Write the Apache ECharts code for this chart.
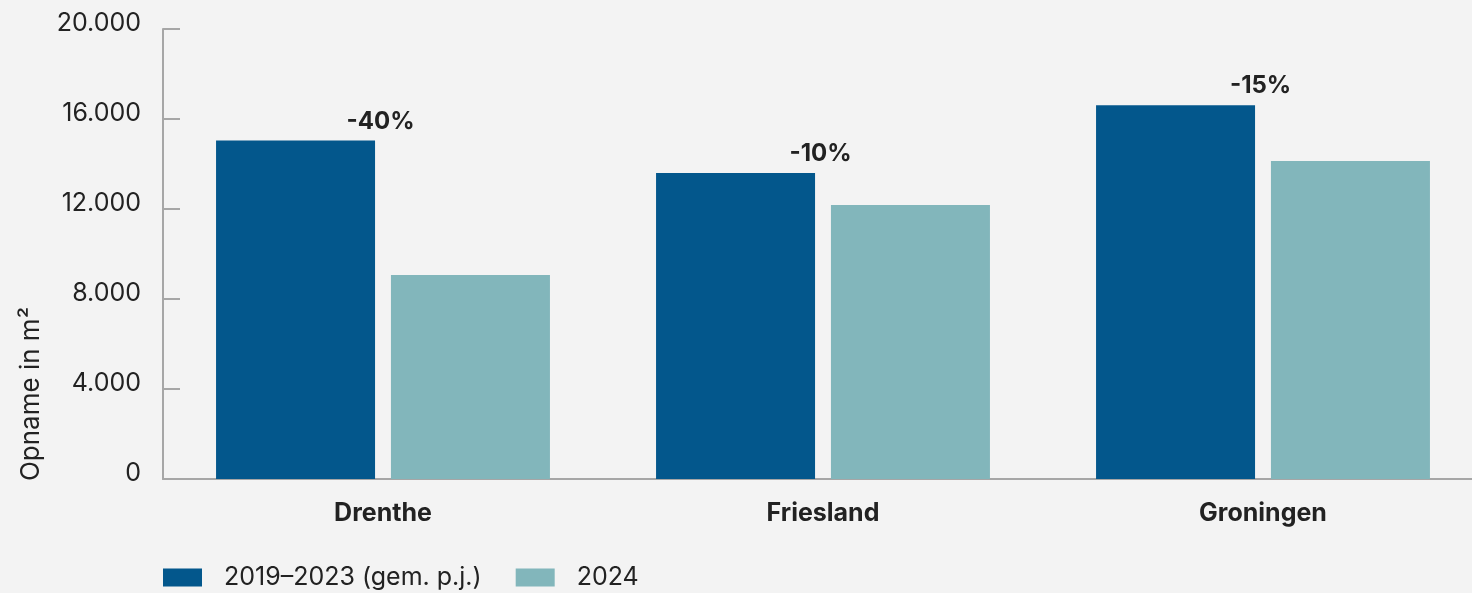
<!DOCTYPE html>
<html>
<head>
<meta charset="utf-8">
<script src="https://cdn.jsdelivr.net/npm/echarts@6/dist/echarts.min.js"></script>
<style>
  html, body { margin: 0; padding: 0; background: #f3f3f3; }
  #main { width: 1472px; height: 593px; }
</style>
</head>
<body>
<div id="main"></div>
<script>
const provinces = ["Drenthe", "Friesland", "Groningen"];
const avg2019_2023 = [15050, 13600, 16610];
const year2024 = [9070, 12180, 14130];
const changeLabels = ["-40%", "-10%", "-15%"];
const seriesNames = ["2019–2023 (gem. p.j.)", "2024"];

const FONT = "Inter, 'Noto Sans', sans-serif";
const TEXT = "#222222";
const AXIS = "#a6a6a6";
const FS = 25;

const chart = echarts.init(document.getElementById("main"));

chart.setOption({
  backgroundColor: "#f3f3f3",
  animation: false,
  textStyle: { fontFamily: FONT },
  grid: { left: 163, top: 29, bottom: 114, width: 1320, outerBoundsMode: "none" },
  legend: {
    left: 163,
    top: 565,
    padding: 0,
    itemWidth: 39,
    itemHeight: 18,
    itemGap: 34,
    icon: "rect",
    textStyle: { fontFamily: FONT, fontSize: FS, color: TEXT, padding: [0, 0, 0, 17] },
    data: seriesNames
  },
  graphic: [
    {
      type: "text",
      x: 31,
      y: 394,
      rotation: Math.PI / 2,
      style: {
        text: "Opname in m²",
        font: "26px " + FONT,
        fill: TEXT,
        align: "center",
        verticalAlign: "middle"
      }
    }
  ],
  xAxis: {
    type: "category",
    data: provinces,
    axisLine: { lineStyle: { color: AXIS, width: 2 } },
    axisTick: { show: false },
    axisLabel: { fontFamily: FONT, fontSize: FS, fontWeight: "bold", color: TEXT, margin: 22 }
  },
  yAxis: {
    type: "value",
    min: 0,
    max: 20000,
    interval: 4000,
    splitLine: { show: false },
    axisLine: { show: true, lineStyle: { color: AXIS, width: 2 } },
    axisTick: { show: true, inside: true, length: 17, lineStyle: { color: AXIS, width: 2 } },
    axisLabel: {
      fontFamily: FONT,
      fontSize: FS,
      color: TEXT,
      margin: 22,
      verticalAlign: "bottom",
      lineHeight: 12,
      formatter: (v) => v.toLocaleString("nl-NL")
    }
  },
  series: [
    {
      name: seriesNames[0],
      type: "bar",
      data: avg2019_2023,
      barWidth: 159,
      barGap: "10%",
      itemStyle: { color: "#03578c" },
      label: {
        show: true,
        position: "top",
        distance: 7,
        offset: [85, 0],
        fontFamily: FONT,
        fontSize: 24,
        fontWeight: "bold",
        color: TEXT,
        formatter: (p) => changeLabels[p.dataIndex]
      }
    },
    {
      name: seriesNames[1],
      type: "bar",
      data: year2024,
      barWidth: 159,
      itemStyle: { color: "#82b6bb" }
    }
  ]
});
</script>
</body>
</html>
